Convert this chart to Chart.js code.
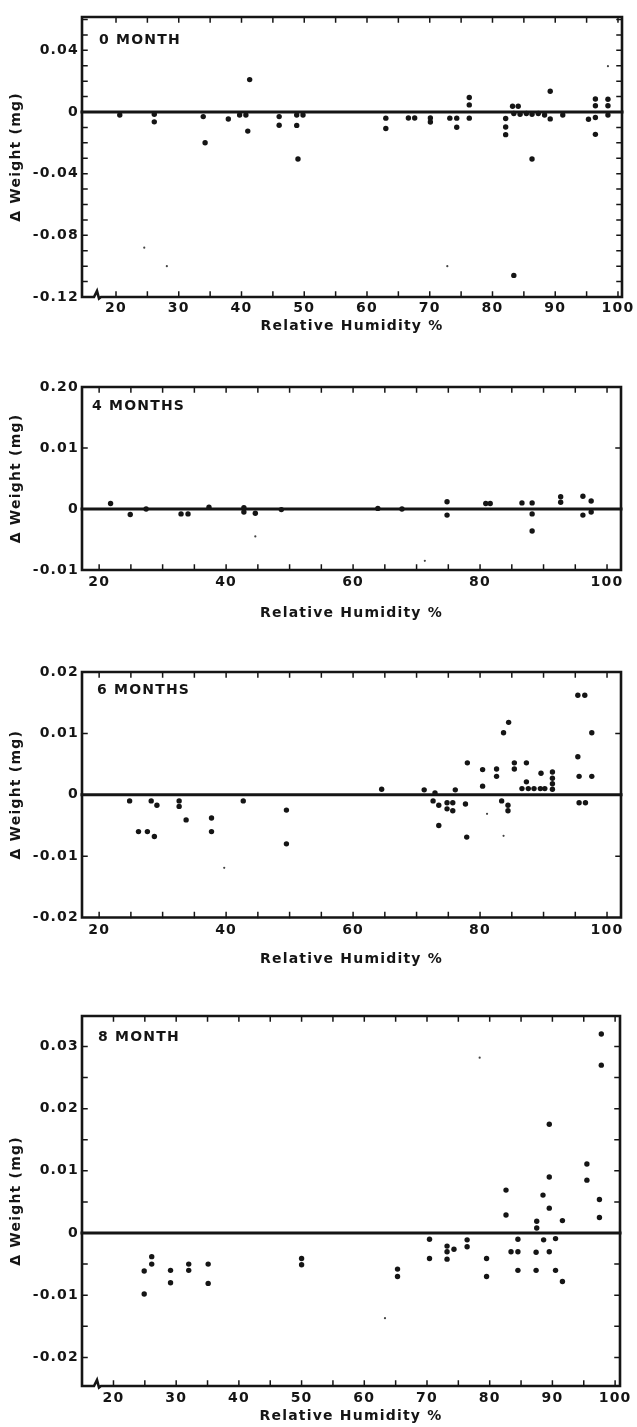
<!DOCTYPE html>
<html>
<head>
<meta charset="utf-8">
<script src="https://cdn.jsdelivr.net/npm/chart.js@4/dist/chart.umd.min.js"></script>
<style>
  html, body { margin: 0; padding: 0; background: #ffffff; width: 637px; height: 1427px; overflow: hidden; }
  canvas { position: absolute; left: 0; }
</style>
</head>
<body>
<canvas id="p0"></canvas>
<canvas id="p4"></canvas>
<canvas id="p6"></canvas>
<canvas id="p8"></canvas>
<script>
// ---------------- DATA ----------------
// Panel "0 MONTH"
const m0RH = [20.6, 26.1, 26.1, 33.9, 34.2, 37.9, 39.7, 40.7, 41.0, 41.3, 46.0, 46.0, 48.8, 48.8, 49.0, 49.8, 63.0, 63.0, 66.6, 67.6, 70.1, 70.1, 73.2, 74.3, 74.3, 76.3, 76.3, 76.3, 82.1, 82.1, 82.1, 83.2, 84.1, 83.4, 84.4, 85.4, 86.3, 87.3, 88.3, 86.3, 89.2, 89.2, 91.2, 95.3, 96.4, 96.4, 96.4, 96.4, 98.4, 98.4, 98.4, 83.4];
const m0DW = [-0.002, -0.0015, -0.0064, -0.003, -0.020, -0.0046, -0.002, -0.002, -0.0124, 0.021, -0.003, -0.0086, -0.002, -0.0087, -0.0305, -0.002, -0.004, -0.0107, -0.0039, -0.0039, -0.0039, -0.0065, -0.004, -0.004, -0.0099, 0.0094, 0.0046, -0.004, -0.0042, -0.0097, -0.0147, 0.0037, 0.0037, -0.001, -0.0015, -0.001, -0.0015, -0.001, -0.002, -0.0305, 0.0134, -0.0045, -0.002, -0.0047, 0.0084, 0.004, -0.0036, -0.0145, 0.0083, 0.004, -0.002, -0.106];
const m0FaintRH = [24.5, 28.1, 72.8, 98.4];
const m0FaintDW = [-0.088, -0.100, -0.100, 0.0297];

// Panel "4 MONTHS"
const m4RH = [21.8, 24.9, 27.4, 32.9, 34.0, 37.3, 42.8, 42.8, 44.6, 48.7, 63.9, 67.7, 74.8, 74.8, 80.9, 81.6, 86.6, 88.2, 88.2, 88.2, 92.7, 92.7, 96.2, 96.2, 97.5, 97.5];
const m4DW = [0.0009, -0.0009, 0, -0.0008, -0.0008, 0.0003, 0.0002, -0.0005, -0.0007, -0.0001, 0.0001, 0, 0.0012, -0.001, 0.0009, 0.0009, 0.001, 0.001, -0.0008, -0.0036, 0.002, 0.0011, 0.0021, -0.001, 0.0013, -0.0005];
const m4FaintRH = [44.6, 71.3];
const m4FaintDW = [-0.0045, -0.0085];

// Panel "6 MONTHS"
const m6RH = [24.8, 26.2, 27.6, 28.2, 29.1, 28.7, 32.6, 32.6, 33.7, 37.7, 37.7, 42.7, 49.5, 49.5, 64.5, 71.2, 72.9, 72.6, 73.5, 73.5, 74.8, 75.7, 74.8, 75.7, 76.1, 77.7, 77.9, 78.0, 80.4, 80.4, 82.6, 82.6, 83.7, 84.5, 83.4, 84.4, 84.4, 85.4, 85.4, 87.3, 87.3, 86.6, 87.6, 88.5, 89.5, 90.2, 89.6, 91.4, 91.4, 91.4, 91.4, 95.4, 96.5, 95.4, 95.6, 95.6, 96.6, 97.6, 97.6];
const m6DW = [-0.001, -0.006, -0.006, -0.001, -0.0017, -0.0068, -0.001, -0.0019, -0.0041, -0.0038, -0.006, -0.001, -0.0025, -0.008, 0.0009, 0.0008, 0.0003, -0.001, -0.0017, -0.005, -0.0013, -0.0013, -0.0023, -0.0026, 0.0008, -0.0015, -0.0069, 0.0052, 0.0041, 0.0014, 0.0042, 0.003, 0.0101, 0.0118, -0.001, -0.0017, -0.0026, 0.0052, 0.0042, 0.0052, 0.0021, 0.001, 0.001, 0.001, 0.001, 0.001, 0.0035, 0.0037, 0.0027, 0.0018, 0.0009, 0.0162, 0.0162, 0.0062, 0.003, -0.0013, -0.0013, 0.0101, 0.003];
const m6FaintRH = [39.7, 81.1, 83.7];
const m6FaintDW = [-0.0119, -0.0031, -0.0067];

// Panel "8 MONTH"
const m8RH = [97.8, 97.8, 89.5, 95.5, 95.5, 89.5, 82.6, 88.5, 82.6, 89.5, 87.5, 87.5, 91.6, 97.5, 97.5, 24.9, 26.1, 26.1, 29.1, 29.1, 32.0, 32.0, 35.1, 35.1, 24.9, 50.0, 50.0, 65.3, 65.3, 70.4, 70.4, 73.2, 73.2, 73.2, 74.3, 76.4, 76.4, 79.5, 79.5, 83.4, 84.5, 84.5, 84.5, 87.4, 87.4, 88.6, 89.5, 90.5, 90.5, 91.6];
const m8DW = [0.032, 0.027, 0.0175, 0.0111, 0.0085, 0.009, 0.0069, 0.0061, 0.0029, 0.004, 0.0019, 0.0008, 0.002, 0.0054, 0.0025, -0.0061, -0.0038, -0.005, -0.006, -0.008, -0.005, -0.006, -0.005, -0.0081, -0.0098, -0.0041, -0.0051, -0.0058, -0.007, -0.001, -0.0041, -0.0021, -0.003, -0.0042, -0.0026, -0.0011, -0.0022, -0.0041, -0.007, -0.003, -0.003, -0.001, -0.006, -0.0031, -0.006, -0.0011, -0.003, -0.0009, -0.006, -0.0078];
const m8FaintRH = [78.4, 63.3];
const m8FaintDW = [0.0282, -0.0137];

// Panel titles
const panelTitles = ['0 MONTH', '4 MONTHS', '6 MONTHS', '8 MONTH'];
const xAxisTitle = 'Relative Humidity %';
const yAxisTitle = '\u0394 Weight (mg)';

// Tick labels
const xTicksDecade = [20, 30, 40, 50, 60, 70, 80, 90, 100];
const xLabelsDecade = ['20', '30', '40', '50', '60', '70', '80', '90', '100'];
const xTicksDouble = [20, 40, 60, 80, 100];
const xLabelsDouble = ['20', '40', '60', '80', '100'];

const m0YTicks = [-0.12, -0.08, -0.04, 0, 0.04];
const m0YLabels = ['-0.12', '-0.08', '-0.04', '0', '0.04'];
const m4YTicks = [-0.01, 0, 0.01, 0.02];
const m4YLabels = ['-0.01', '0', '0.01', '0.20'];
const m6YTicks = [-0.02, -0.01, 0, 0.01, 0.02];
const m6YLabels = ['-0.02', '-0.01', '0', '0.01', '0.02'];
const m8YTicks = [-0.02, -0.01, 0, 0.01, 0.02, 0.03];
const m8YLabels = ['-0.02', '-0.01', '0', '0.01', '0.02', '0.03'];

// ---------------- STYLE / LAYOUT ----------------
const FONT = "'DejaVu Sans', 'Liberation Sans', sans-serif";
const INK = '#151515';
const SPACING = '1.2px';

function steps(fromInt, toInt, div) { const a = []; for (let k = fromInt; k <= toInt; k++) a.push(k / div); return a; }
function labeler(values, labels) {
  return v => { const i = values.findIndex(m => Math.abs(m - v) < 1e-9); return i >= 0 ? labels[i] : ''; };
}
function pts(xs, ys) { return xs.map((x, i) => ({ x: x, y: ys[i] })); }

const framePlugin = {
  id: 'frame',
  beforeDraw(chart) { chart.ctx.letterSpacing = SPACING; },
  beforeDatasetsDraw(chart, args, o) {
    const ctx = chart.ctx, a = chart.chartArea, xs = chart.scales.x, ys = chart.scales.y;
    ctx.save();
    ctx.strokeStyle = INK; ctx.lineCap = 'square';
    // inward ticks on all four sides
    ctx.lineWidth = 1.5;
    ctx.beginPath();
    xs.ticks.forEach(t => {
      const px = xs.getPixelForValue(t.value);
      if (px < a.left + 2 || px > a.right - 2) return;
      ctx.moveTo(px, a.bottom); ctx.lineTo(px, a.bottom - 5);
      ctx.moveTo(px, a.top); ctx.lineTo(px, a.top + 5);
    });
    ys.ticks.forEach(t => {
      const py = ys.getPixelForValue(t.value);
      if (py < a.top + 2 || py > a.bottom - 2) return;
      ctx.moveTo(a.left, py); ctx.lineTo(a.left + 5, py);
      ctx.moveTo(a.right, py); ctx.lineTo(a.right - 5, py);
    });
    ctx.stroke();
    // frame
    ctx.lineWidth = 2.6;
    ctx.beginPath();
    ctx.moveTo(a.left, a.bottom); ctx.lineTo(a.left, a.top); ctx.lineTo(a.right, a.top); ctx.lineTo(a.right, a.bottom);
    if (o.broken) {
      const bx = a.left + 15, b = a.bottom;
      ctx.lineTo(bx + 4, b);
      ctx.lineTo(bx + 2, b + 1.5);
      ctx.lineTo(bx, b - 6);
      ctx.lineTo(bx - 3, b);
      ctx.lineTo(a.left, b);
    } else {
      ctx.lineTo(a.left, a.bottom);
    }
    ctx.stroke();
    // zero line
    const y0 = ys.getPixelForValue(0);
    ctx.lineWidth = 3;
    ctx.beginPath(); ctx.moveTo(a.left, y0); ctx.lineTo(a.right, y0); ctx.stroke();
    ctx.restore();
  },
  afterDraw(chart, args, o) {
    const ctx = chart.ctx, a = chart.chartArea;
    ctx.save();
    ctx.letterSpacing = SPACING;
    ctx.fillStyle = INK;
    ctx.font = 'bold 14px ' + FONT;
    ctx.textAlign = 'left'; ctx.textBaseline = 'middle';
    ctx.fillText(o.text, a.left + o.dx, a.top + o.dy);
    ctx.restore();
  }
};

function buildPanel(id, g, main, faint, xCfg, yCfg, title) {
  const cv = document.getElementById(id);
  const H = g.bottom - g.top;
  cv.width = 637; cv.height = H; cv.style.top = g.top + 'px';
  cv.style.width = '637px'; cv.style.height = H + 'px';
  const f = { family: FONT, size: 14, weight: 'bold', lineHeight: 1.2 };
  const half = 14 * 1.2 / 2;
  return new Chart(cv, {
    type: 'scatter',
    data: { datasets: [
      { data: main, pointRadius: 2.7, pointHoverRadius: 2.7, pointBackgroundColor: INK, pointBorderWidth: 0, showLine: false },
      { data: faint, pointRadius: 1.1, pointHoverRadius: 1.1, pointBackgroundColor: '#444', pointBorderWidth: 0, showLine: false }
    ] },
    options: {
      responsive: false, animation: false, devicePixelRatio: 1, events: [],
      layout: { padding: { top: g.boxTop - g.top, right: 637 - g.boxRight, left: 0, bottom: 0 } },
      plugins: {
        legend: { display: false }, tooltip: { enabled: false },
        frame: { text: title, dx: g.tdx, dy: g.tdy, broken: g.broken }
      },
      scales: {
        x: {
          type: 'linear', min: xCfg.min, max: xCfg.max,
          grid: { display: false, drawTicks: false }, border: { display: false },
          afterBuildTicks: s => { s.ticks = xCfg.all.map(v => ({ value: v })); },
          afterFit: s => { s.height = g.bottom - g.boxBottom; },
          ticks: { autoSkip: false, maxRotation: 0, minRotation: 0, padding: g.xPad, color: INK, font: f, callback: xCfg.label },
          title: { display: true, text: xAxisTitle, color: INK, font: f, padding: { top: 0, bottom: g.bottom - g.titleY - half } }
        },
        y: {
          type: 'linear', position: 'left', min: yCfg.min, max: yCfg.max,
          grid: { display: false, drawTicks: false }, border: { display: false },
          afterBuildTicks: s => { s.ticks = yCfg.all.map(v => ({ value: v })); },
          afterFit: s => { s.width = 82; },
          ticks: { autoSkip: false, padding: 3, color: INK, font: f, callback: yCfg.label },
          title: { display: true, text: yAxisTitle, color: INK, font: f, padding: { top: 16 - half, bottom: 0 } }
        }
      }
    },
    plugins: [framePlugin]
  });
}

const xEveryFive = steps(4, 20, 1).map(k => k * 5);

buildPanel('p0',
  { top: 0, bottom: 340, boxTop: 17, boxBottom: 297, boxRight: 622, titleY: 326, xPad: 3, tdx: 17, tdy: 23, broken: true },
  pts(m0RH, m0DW), pts(m0FaintRH, m0FaintDW),
  { min: 14.58, max: 100.64, all: xEveryFive, label: labeler(xTicksDecade, xLabelsDecade) },
  { min: -0.12, max: 0.0616, all: steps(-12, 6, 100), label: labeler(m0YTicks, m0YLabels) },
  panelTitles[0]);

buildPanel('p4',
  { top: 340, bottom: 630, boxTop: 387, boxBottom: 570, boxRight: 621, titleY: 613, xPad: 4, tdx: 10, tdy: 19, broken: false },
  pts(m4RH, m4DW), pts(m4FaintRH, m4FaintDW),
  { min: 17.3, max: 102.2, all: xEveryFive, label: labeler(xTicksDouble, xLabelsDouble) },
  { min: -0.01, max: 0.02, all: steps(-1, 2, 100), label: labeler(m4YTicks, m4YLabels) },
  panelTitles[1]);

buildPanel('p6',
  { top: 630, bottom: 975, boxTop: 672, boxBottom: 917.5, boxRight: 621, titleY: 959, xPad: 4, tdx: 15, tdy: 18, broken: false },
  pts(m6RH, m6DW), pts(m6FaintRH, m6FaintDW),
  { min: 17.3, max: 102.2, all: xEveryFive, label: labeler(xTicksDouble, xLabelsDouble) },
  { min: -0.02, max: 0.02, all: steps(-2, 2, 100), label: labeler(m6YTicks, m6YLabels) },
  panelTitles[2]);

buildPanel('p8',
  { top: 975, bottom: 1427, boxTop: 1016, boxBottom: 1386, boxRight: 620, titleY: 1416.5, xPad: 4, tdx: 16, tdy: 21, broken: true },
  pts(m8RH, m8DW), pts(m8FaintRH, m8FaintDW),
  { min: 14.98, max: 100.78, all: xEveryFive, label: labeler(xTicksDecade, xLabelsDecade) },
  { min: -0.0246, max: 0.0349, all: steps(-4, 6, 200), label: labeler(m8YTicks, m8YLabels) },
  panelTitles[3]);
</script>
</body>
</html>
